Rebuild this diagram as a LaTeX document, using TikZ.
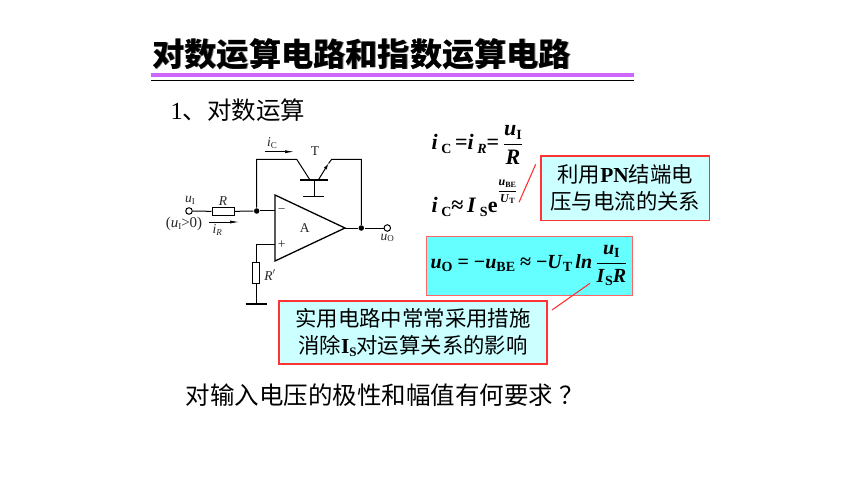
\documentclass[tikz,border=0pt]{standalone}
\usepackage{amsmath}
\usepackage{fontspec}
\setmainfont{Liberation Serif}
\newfontfamily\cjk{Noto Sans CJK SC}
\usetikzlibrary{arrows.meta}
\usetikzlibrary{calc}
\usetikzlibrary{positioning}
\definecolor{boxred}{HTML}{FF3333}
\definecolor{lightcyan}{HTML}{CCFFFF}
\definecolor{strongcyan}{HTML}{66FFFF}
\definecolor{titlepurple}{HTML}{CC66FF}
\newcommand{\vb}[1]{\textbf{\textit{#1}}}
\newcommand{\sbs}[1]{\raisebox{-0.35ex}{\fontsize{14}{14}\selectfont\textbf{#1}}}
\newcommand{\sbi}[1]{\raisebox{-0.35ex}{\fontsize{14}{14}\selectfont\vb{#1}}}
\newcommand{\cs}[1]{\raisebox{-0.3ex}{\fontsize{9}{9}\selectfont #1}}
\begin{document}
\begin{tikzpicture}[x=1pt, y=-1pt, line width=1pt]
	\tikzstyle{resnode}=[draw=black, fill=white, inner sep=0pt]
	\tikzstyle{dotnode}=[circle, fill=black, inner sep=0pt, minimum size=5.5pt]
	\tikzstyle{pinnode}=[circle, draw=black, fill=white, inner sep=0pt, minimum size=6.5pt]
	\tikzstyle{circtext}=[inner sep=0pt, font=\fontsize{13.5}{14}\selectfont, text=black!85]
	\tikzstyle{eqnode}=[inner sep=0pt, anchor=west, font=\fontsize{22}{24}\selectfont]
	\tikzstyle{notebox}=[draw=boxred, line width=1.2pt, fill=lightcyan, inner sep=0pt, align=center, font=\cjk\fontsize{21.4}{27}\selectfont]
	\tikzstyle{bodytext}=[inner sep=0pt, anchor=west, font=\cjk\fontsize{24.5}{26}\selectfont]
	\tikzstyle{currarrow}=[-{Latex[length=9pt,width=3pt]}, line width=0.7pt]

	\useasboundingbox (0,0) rectangle (860,484);

	\node (titleshadow) at (152.6,54.6) [inner sep=0pt, anchor=west, text=black!45, font=\cjk\bfseries\fontsize{32.2}{34}\selectfont] {对数运算电路和指数运算电路};
	\node (title) at (152,54) [inner sep=0pt, anchor=west, font=\cjk\bfseries\fontsize{32.2}{34}\selectfont] {对数运算电路和指数运算电路};
	\coordinate (rule0) at (151,75.3);
	\coordinate (rule1) at (634,75.3);
	\coordinate (rule2) at (151,80.3);
	\coordinate (rule3) at (634,80.3);
	\draw [line width=4pt, titlepurple] (rule0) -- (rule1);
	\draw [line width=0.7pt] (rule2) -- (rule3);

	\node (head) at (170,110) [bodytext] {{\rmfamily 1}、对数运算};
	\node (question) at (185,395) [bodytext] {对输入电压的极性和幅值有何要求\hspace{7pt}？};

	\node (in) at (189,211) [pinnode] {};
	\node (res) at (223,211.5) [resnode, minimum width=22pt, minimum height=7pt] {};
	\node (jn) at (256.7,211) [dotnode] {};
	\node (jout) at (361.3,228) [dotnode] {};
	\node (out) at (387.3,228) [pinnode] {};
	\node (resb) at (256.2,273) [resnode, minimum width=7.5pt, minimum height=21.5pt] {};

	\coordinate (ampa) at (275,195);
	\coordinate (ampb) at (275,261);
	\coordinate (ampc) at (345,228);
	\coordinate (ampm) at (275,211);
	\coordinate (ampp) at (275,244.3);
	\coordinate (pbend) at (256.2,244.3);
	\coordinate (gnd) at (256.2,304);
	\coordinate (gnda) at (245.7,304);
	\coordinate (gndb) at (266.7,304);
	\coordinate (fb0) at (256.7,159.3);
	\coordinate (fb1) at (296.7,159.3);
	\coordinate (fb2) at (331.7,159.3);
	\coordinate (fb3) at (361.3,159.3);
	\coordinate (tc) at (310,180);
	\coordinate (te) at (318.3,180);
	\coordinate (tm) at (328.5,163.5);
	\coordinate (ta) at (300,180);
	\coordinate (tb) at (328,180);
	\coordinate (ts0) at (314,180);
	\coordinate (ts1) at (314,196.7);
	\coordinate (tb0) at (303.3,196.7);
	\coordinate (tb1) at (324.3,196.7);

	\draw [line width=1.3pt, line join=miter] (ampa) -- (ampb) -- (ampc) -- cycle;
	\draw (in) -- (res);
	\draw (res) -- (jn);
	\draw (jn) -- (ampm);
	\draw (ampc) -- (jout);
	\draw (jout) -- (out);
	\draw (jn) -- (fb0) -- (fb1) -- (tc);
	\draw [line width=1.2pt] (ta) -- (tb);
	\draw [line width=1.2pt] (tb0) -- (tb1);
	\draw (ts0) -- (ts1);
	\draw [-{Latex[length=6pt,width=3.5pt]}] (te) -- (tm);
	\draw (tm) -- (fb2) -- (fb3) -- (jout);
	\draw (ampp) -- (pbend) -- (resb);
	\draw (resb) -- (gnd);
	\draw [line width=1.2pt] (gnda) -- (gndb);

	\coordinate (ic0) at (265,151.7);
	\coordinate (ic1) at (294,151.7);
	\coordinate (ir0) at (209.3,222);
	\coordinate (ir1) at (239,222);
	\draw [currarrow] (ic0) -- (ic1);
	\draw [currarrow] (ir0) -- (ir1);

	\node (lic) at (272,143) [circtext] {\textit{i}\cs{C}};
	\node (lt) at (315,151) [circtext] {T};
	\node (lui) at (190,200) [circtext] {\textit{u}\cs{I}};
	\node (lcond) at (184,224) [circtext, font=\fontsize{15}{16}\selectfont] {(\textit{u}\cs{I}>0)};
	\node (lr) at (223,200.7) [circtext] {\textit{R}};
	\node (lir) at (217.3,230) [circtext] {\textit{i}\cs{\textit{R}}};
	\node (lminus) at (281.7,211) [circtext] {−};
	\node (lplus) at (281.7,244.3) [circtext] {+};
	\node (la) at (304.7,227.7) [circtext] {A};
	\node (luo) at (387.3,238) [circtext] {\textit{u}\cs{O}};
	\node (lrb) at (270,275) [circtext] {\textit{R}$'$};

	\node (eq1) at (431,145) [eqnode] {\vb{i}\,\sbs{C}\,\textbf{=}\vb{i}\,\sbi{R}\textbf{=}\,$\dfrac{\mbox{\vb{u}\sbs{I}}}{\mbox{\vb{R}}}$};
	\node (eq2) at (431,207) [eqnode] {\vb{i}\,\sbs{C}\textbf{≈}\,\vb{I}\,\sbs{S}\textbf{e}};
	\node (eq2exp) at (497,192) [inner sep=0pt, anchor=west, font=\fontsize{12}{13}\selectfont] {$\dfrac{\mbox{\vb{u}\raisebox{-0.3ex}{\fontsize{8}{8}\selectfont\textbf{BE}}}}{\mbox{\vb{U}\raisebox{-0.3ex}{\fontsize{8}{8}\selectfont\textbf{T}}}}$};

	\node (note1) at (625.3,188.2) [notebox, minimum width=168.7pt, minimum height=64.3pt] {利用{\rmfamily\bfseries PN}结端电\\压与电流的关系};
	\node (eqbox) at (529.5,265.8) [draw=boxred!75, line width=0.9pt, fill=strongcyan, minimum width=205.6pt, minimum height=58.3pt, inner sep=0pt] {};
	\node (eq3) at (430,265.5) [eqnode, font=\fontsize{20}{22}\selectfont] {\vb{u}\sbs{O}\textbf{ = −}\vb{u}\sbs{BE}\textbf{ ≈ −}\vb{U}\sbs{T}\,\vb{ln}\,$\dfrac{\mbox{\vb{u}\sbs{I}}}{\mbox{\vb{I}\sbs{S}\vb{R}}}$};
	\node (note2) at (413,332.5) [notebox, minimum width=268pt, minimum height=63pt] {实用电路中常常采用措施\\消除{\rmfamily\bfseries I\raisebox{-0.3ex}{\fontsize{13}{13}\selectfont S}}对运算关系的影响};

	\coordinate (lk0) at (535.7,164.3);
	\coordinate (lk1) at (519,202.3);
	\coordinate (lk2) at (590,283.3);
	\coordinate (lk3) at (552,310);
	\draw [boxred, line width=1.1pt] (lk0) -- (lk1);
	\draw [boxred, line width=1.1pt] (lk2) -- (lk3);
\end{tikzpicture}
\end{document}
